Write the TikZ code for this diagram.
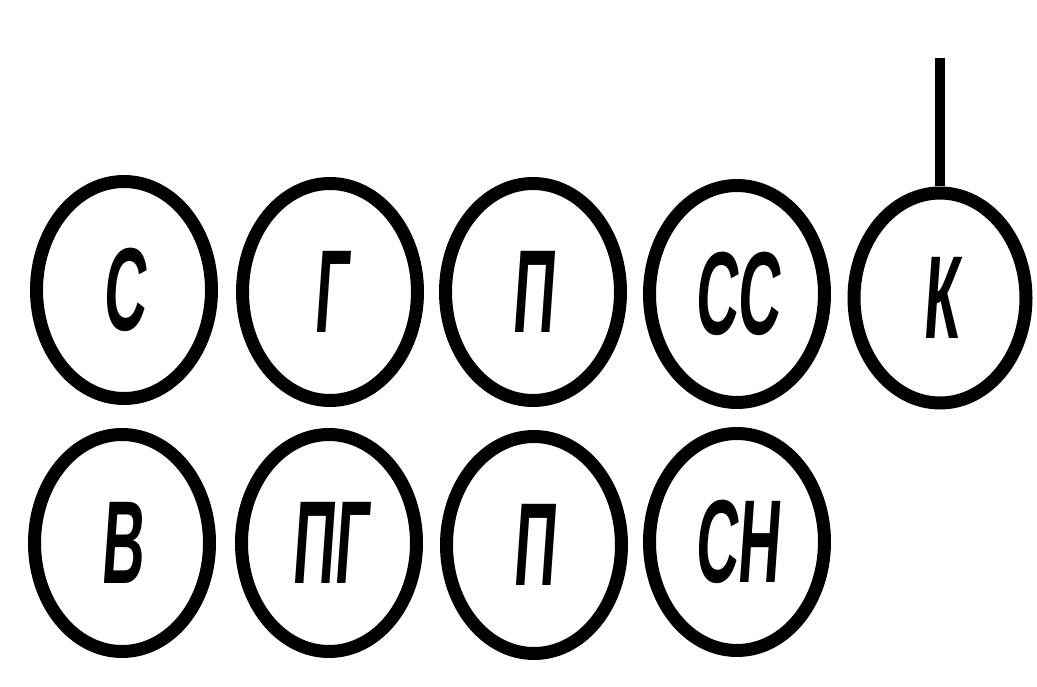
\documentclass[tikz,border=0pt]{standalone}
\usepackage{fontspec}
\usetikzlibrary{shapes.geometric}
\newfontfamily\labfont[FakeStretch=0.5,FakeSlant=0.07]{Liberation Sans Bold}
\begin{document}
\begin{tikzpicture}[x=1pt,y=-1pt,
  ring/.style={draw=black,line width=13pt,ellipse,inner sep=0pt,
    minimum width=175pt,minimum height=217pt,
    font=\labfont\fontsize{118}{118}\selectfont}]
\useasboundingbox[fill=white] (0,0) rectangle (1037,687);
\node[ring] (s)  at (124,290) {С};
\node[ring] (g)  at (330,292) {Г};
\node[ring] (p1) at (533,292) {П};
\node[ring] (ss) at (737,294) {СС};
\node[ring,minimum width=172pt,minimum height=210pt] (k) at (940,298) {К};
\node[ring] (v)  at (122,543) {В};
\node[ring] (pg) at (329,543) {ПГ};
\node[ring] (p2) at (534,545) {П};
\node[ring] (sn) at (737,542) {СН};
\coordinate (ktop) at (940,58);
\draw[line width=10pt] (ktop) -- (k.north);
\end{tikzpicture}
\end{document}
